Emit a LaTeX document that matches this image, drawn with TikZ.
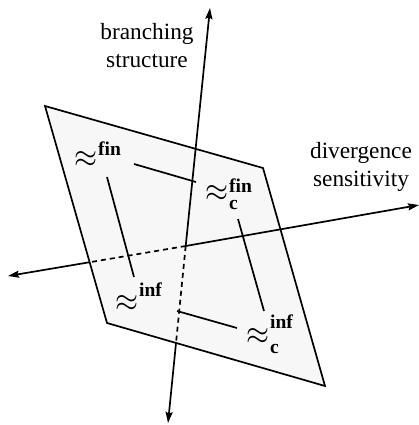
\documentclass[tikz,border=0pt]{standalone}
\usepackage{fontspec}
\setmainfont{Liberation Serif}
\usetikzlibrary{arrows.meta}
\newcommand{\scr}[1]{\hbox{\fontsize{19.5}{20}\selectfont\bfseries #1}}
\newcommand{\relsym}[4]{\resizebox*{23pt}{16pt}{$\approx$}\kern0.5pt\rlap{\raisebox{#3}{\scr{#1}}}\raisebox{#4}{\scr{#2}}}
\begin{document}
\begin{tikzpicture}[x=1pt,y=-1pt,
  axis/.style={line width=1.7pt,-{Stealth[length=11pt,width=7pt,inset=1.5pt]}},
  hidden/.style={line width=1.7pt,dash pattern=on 5pt off 4pt},
  edge/.style={line width=1.7pt},
  lbl/.style={font=\fontsize{23.3}{28}\selectfont,align=center,inner sep=0pt},
  rel/.style={inner sep=0pt,anchor=base west}]
\useasboundingbox (0,0) rectangle (419,425);
% plane
\coordinate (TL) at (45,106);
\coordinate (TR) at (263,168);
\coordinate (BR) at (325,386);
\coordinate (BL) at (107,323);
\draw[edge,fill=black!3,line join=miter] (TL) -- (TR) -- (BR) -- (BL) -- cycle;
% axes
\coordinate (O) at (185.7,246);
\coordinate (Up) at (210,8);
\coordinate (Down) at (168,423);
\coordinate (Right) at (419,205);
\coordinate (Left) at (8,276);
\coordinate (Cd) at (intersection of O--Down and BL--BR);
\coordinate (Cl) at (intersection of O--Left and TL--BL);
\draw[axis] (O) -- (Up);
\draw[axis] (O) -- (Right);
\draw[hidden] (O) -- (Cd);
\draw[hidden] (O) -- (Cl);
\draw[axis] (Cd) -- (Down);
\draw[axis] (Cl) -- (Left);
% labels
\node[lbl] (bs) at (147,46) {branching\\structure};
\node[lbl] (ds) at (361,167) {divergence\\sensitivity};
% relations
\node[rel] (fin) at (74.5,167) {\relsym{fin}{}{12pt}{0pt}};
\node[rel] (finc) at (205.5,201) {\relsym{fin}{c}{9pt}{-8pt}};
\node[rel] (inf) at (115.5,311) {\relsym{inf}{}{15pt}{0pt}};
\node[rel] (infc) at (246.5,344) {\relsym{inf}{c}{16pt}{-9pt}};
\coordinate (a1) at (134,164); \coordinate (a2) at (196,182);
\coordinate (b1) at (107,177); \coordinate (b2) at (134,277);
\coordinate (c1) at (238,219); \coordinate (c2) at (264,311);
\coordinate (d1) at (177,311); \coordinate (d2) at (237,328);
\draw[edge] (a1) -- (a2);
\draw[edge] (b1) -- (b2);
\draw[edge] (c1) -- (c2);
\draw[edge] (d1) -- (d2);
\end{tikzpicture}
\end{document}
